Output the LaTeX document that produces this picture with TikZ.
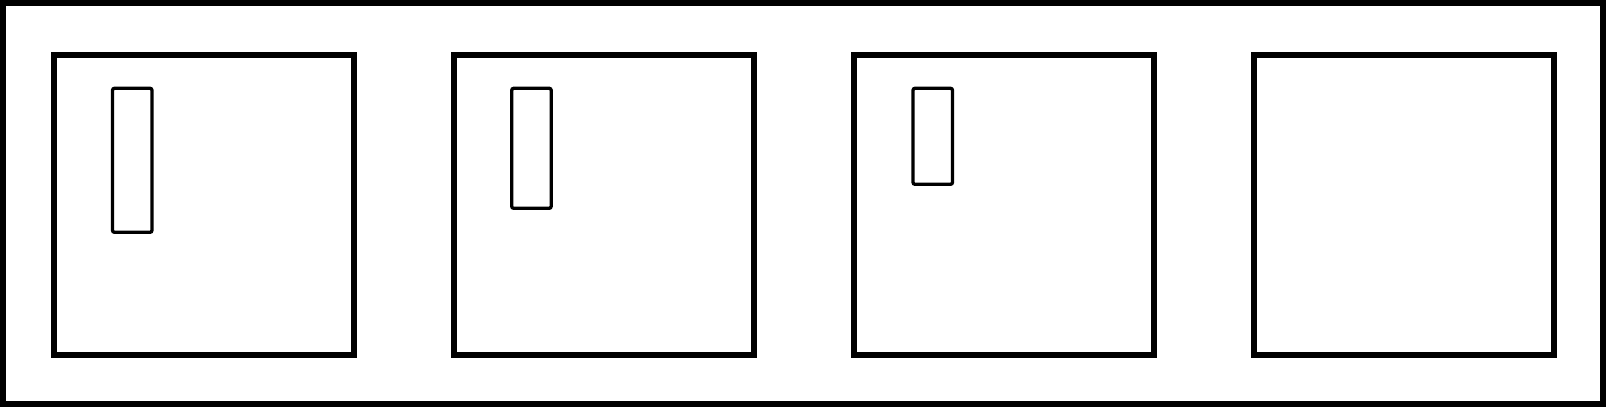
\documentclass[tikz,border=0pt]{standalone}
\usetikzlibrary{positioning}
\tikzset{
  frame/.style={draw=black, line width=3pt, inner sep=0pt, outer sep=0pt, minimum width=800pt, minimum height=200.5pt},
  bay/.style={draw=black, line width=3pt, inner sep=0pt, outer sep=0pt, minimum width=150pt, minimum height=150pt},
  bar/.style={draw=black, line width=1.65pt, rounded corners=1pt, inner sep=0pt, outer sep=0pt, minimum width=19.75pt, minimum height=#1, anchor=north west},
}
\begin{document}
\begin{tikzpicture}[x=0.5pt,y=-0.5pt]
  \useasboundingbox (0,0) rectangle (1606,407);
  \node[frame] (outer) at (803,203.5) {};
  \foreach \n/\x in {1/204,2/603.5,3/1004,4/1404} \node[bay] (bay\n) at (\x,204.7) {};
  \node[bar=72pt] (bar1) at (112.5,88.3) {};
  \node[bar=60pt] (bar2) at (511.7,88.3) {};
  \node[bar=48pt] (bar3) at (913,88.3) {};
\end{tikzpicture}
\end{document}
